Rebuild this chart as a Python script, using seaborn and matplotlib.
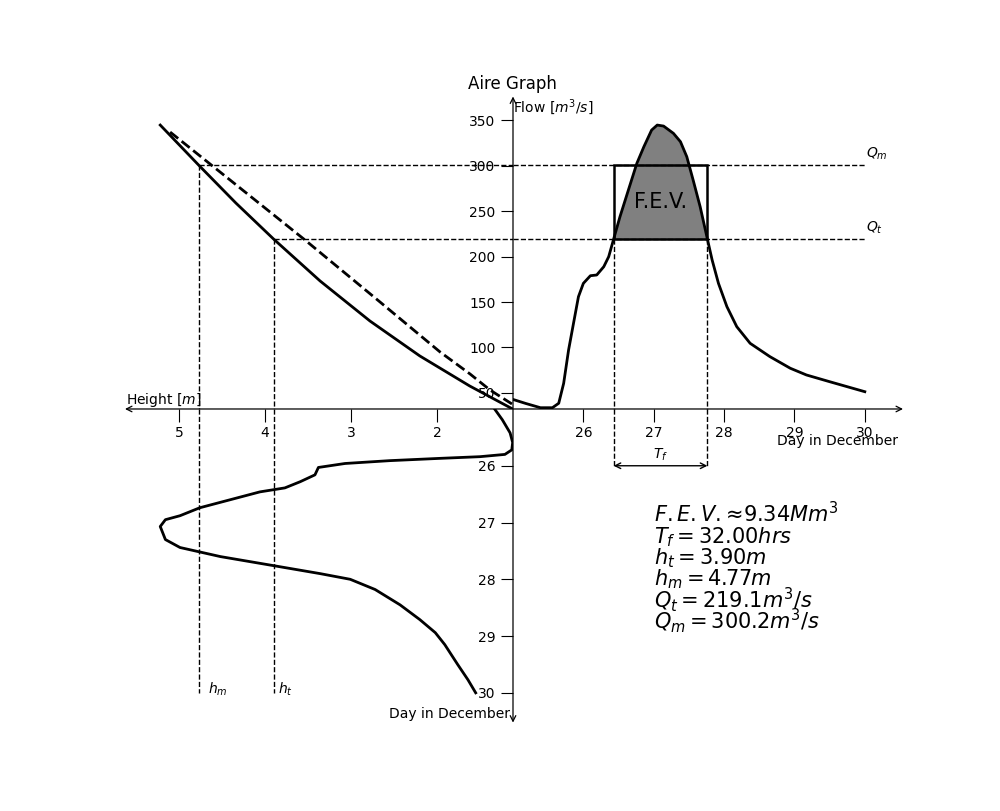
import matplotlib
matplotlib.use("Agg")
import matplotlib.pyplot as plt
import numpy as np
import seaborn as sns
from matplotlib.patches import Rectangle

# flow hydrograph, Day in December vs flow [m3/s]
flow_day = [25.00, 25.18, 25.39, 25.56, 25.65, 25.72, 25.79, 25.86, 25.93, 26.00,
            26.10, 26.19, 26.29, 26.36, 26.43, 26.52, 26.64, 26.76, 26.86, 26.97,
            27.05, 27.14, 27.28, 27.38, 27.47, 27.56, 27.66, 27.763, 27.83, 27.92,
            28.04, 28.18, 28.37, 28.65, 28.94, 29.17, 29.50, 30.00]
flow_q = [42.9, 38.5, 33.8, 33.8, 38.7, 60.6, 97.3, 126.6, 155.8, 170.5,
          178.9, 179.7, 188.8, 199.8, 219.1, 243.7, 273.1, 302.4, 320.7, 339.0,
          344.5, 343.4, 335.4, 326.2, 309.7, 284.1, 254.7, 219.1, 196.2, 170.5,
          144.9, 122.9, 104.6, 90.0, 77.2, 69.8, 62.4, 51.4]

# rating curve: observed and fitted, height [m] vs flow [m3/s]
rating_h = [5.22, 4.77, 4.34, 3.90, 3.36, 2.78, 2.20, 1.62, 1.12]
rating_q = [344.5, 300.2, 258.8, 219.1, 173.1, 129.1, 90.7, 57.7, 32.4]
fit_h = [5.105, 4.291, 3.535, 2.663, 1.965, 1.616, 1.384, 1.128]
fit_q = [336.8, 275.3, 218.1, 150.0, 95.1, 70.9, 53.3, 37.9]

# stage hydrograph, height [m] vs Day in December
stage_day = [25.00, 25.19, 25.42, 25.59, 25.72, 25.80, 25.84, 25.87, 25.91, 25.96,
             26.03, 26.16, 26.28, 26.39, 26.46, 26.60, 26.74, 26.88, 26.95, 27.07,
             27.30, 27.44, 27.60, 27.76, 27.90, 28.00, 28.18, 28.45, 28.71, 28.94,
             29.15, 29.50, 29.77, 30.00]
stage_h = [1.33, 1.24, 1.15, 1.12, 1.13, 1.21, 1.50, 1.97, 2.55, 3.07,
           3.38, 3.42, 3.59, 3.77, 4.06, 4.41, 4.76, 4.99, 5.16, 5.22,
           5.16, 4.99, 4.52, 3.90, 3.36, 3.01, 2.72, 2.43, 2.20, 2.02,
           1.91, 1.76, 1.64, 1.55]

q_t, q_m = 219.1, 300.2
h_t, h_m = 3.90, 4.77
t_start, t_end = 26.43, 27.763
fev, t_f = 9.34, 32.00

day_ticks = [26, 27, 28, 29, 30]
flow_ticks = [50, 100, 150, 200, 250, 300, 350]
height_ticks = [5, 4, 3, 2]

fig = plt.figure(figsize=(10, 8.11), dpi=100)
L, R, B, T = 0.125, 0.9, 0.11, 0.88
ox, oy = 0.513, 0.4957

ax_ur = fig.add_axes([ox, oy, R - ox, T - oy])
ax_ul = fig.add_axes([L, oy, ox - L, T - oy])
ax_ll = fig.add_axes([L, B, ox - L, oy - B])
ax_lr = fig.add_axes([ox, B, R - ox, oy - B])

day_lim = (25, 30.5)
q_lim = (32.4, 375)
h_lim = (5.63, 1.116)
sday_lim = (30.51, 25)

for ax in (ax_ur, ax_ul, ax_ll, ax_lr):
    ax.set_facecolor("none")
    for s in ax.spines.values():
        s.set_visible(False)
    ax.tick_params(length=9, width=0.8, labelsize=10)

# upper right: hydrograph with flood excess volume
sns.lineplot(x=flow_day, y=flow_q, ax=ax_ur, color="black", lw=2)
ax_ur.fill_between(flow_day, flow_q, q_t, where=np.array(flow_q) >= q_t,
                   interpolate=True, color="gray", lw=0)
ax_ur.add_patch(Rectangle((t_start, q_t), t_end - t_start, q_m - q_t,
                          fill=False, ec="black", lw=1.8, zorder=3))
ax_ur.text((t_start + t_end) / 2, (q_t + q_m) / 2, "F.E.V.", fontsize=15,
           ha="center", va="center")
for q, lab in ((q_m, "$Q_m$"), (q_t, "$Q_t$")):
    ax_ur.plot([day_lim[0], 30], [q, q], "k--", lw=1)
    ax_ur.text(30.02, q + 13, lab, ha="left", va="center", fontsize=10)
for t in (t_start, t_end):
    ax_ur.plot([t, t], [q_t, q_lim[0]], "k--", lw=1, clip_on=False)
ax_ur.set_xlim(day_lim)
ax_ur.set_ylim(q_lim)
ax_ur.set_xticks(day_ticks)
ax_ur.set_yticks(flow_ticks)
ax_ur.text(0.0, 0.968, "Flow [$m^3/s$]", transform=ax_ur.transAxes,
           ha="left", va="center", fontsize=10)

# upper left: rating curve
sns.lineplot(x=rating_h, y=rating_q, ax=ax_ul, sort=False, estimator=None,
             color="black", lw=2)
sns.lineplot(x=fit_h, y=fit_q, ax=ax_ul, sort=False, estimator=None,
             color="black", lw=2, linestyle="--")
for h, q in ((h_m, q_m), (h_t, q_t)):
    ax_ul.plot([h, h_lim[1]], [q, q], "k--", lw=1)
    ax_ul.plot([h, h], [q, q_lim[0]], "k--", lw=1)
ax_ul.set_xlim(h_lim)
ax_ul.set_ylim(q_lim)
ax_ul.set_xticks(height_ticks)
ax_ul.set_yticks([])
ax_ul.text(0.002, 0.0, "Height [$m$]", transform=ax_ul.transAxes,
           ha="left", va="bottom", fontsize=10)

# lower left: stage hydrograph
sns.lineplot(x=stage_h, y=stage_day, ax=ax_ll, sort=False, estimator=None,
             color="black", lw=2)
for h, lab, dx in ((h_m, "$h_m$", 0.1), (h_t, "$h_t$", 0.05)):
    ax_ll.plot([h, h], [25, 30], "k--", lw=1)
    ax_ll.text(h - dx, 29.93, lab, ha="left", va="center", fontsize=10)
ax_ll.set_xlim(h_lim)
ax_ll.set_ylim(sday_lim)
ax_ll.set_xticks([])
ax_ll.set_yticks([])
ax_ll.text(0.992, 0.026, "Day in December", transform=ax_ll.transAxes,
           ha="right", va="center", fontsize=10)

# lower right: summary
for t in (t_start, t_end):
    ax_lr.plot([t, t], [25, 26], "k--", lw=1)
ax_lr.annotate("", xy=(t_end, 26), xytext=(t_start, 26),
               arrowprops=dict(arrowstyle="<->", color="black", lw=1,
                               shrinkA=0, shrinkB=0))
ax_lr.text((t_start + t_end) / 2, 25.8, "$T_f$", ha="center", va="center",
           fontsize=10)
summary = [f"$F.E.V.≈{fev:.2f}Mm^3$",
           f"$T_f = {t_f:.2f}hrs$",
           f"$h_t = {h_t:.2f}m$",
           f"$h_m = {h_m:.2f}m$",
           f"$Q_t = {q_t:.1f}m^3/s$",
           f"$Q_m = {q_m:.1f}m^3/s$"]
for i, line in enumerate(summary):
    ax_lr.text(27.0, 26.99 + 0.375 * i, line, ha="left", va="baseline",
               fontsize=15)
ax_lr.set_xlim(day_lim)
ax_lr.set_ylim(sday_lim)
ax_lr.set_xticks([])
ax_lr.set_yticks(day_ticks)
ax_lr.text(0.995, 0.898, "Day in December", transform=ax_lr.transAxes,
           ha="right", va="center", fontsize=10)

# axis lines with arrow heads
arrow = dict(arrowstyle="<->", color="black", lw=0.9, shrinkA=0, shrinkB=0)
ax_ur.annotate("", xy=(R + 0.003, oy), xytext=(L, oy),
               xycoords="figure fraction", arrowprops=arrow)
ax_ur.annotate("", xy=(ox, T + 0.001), xytext=(ox, B - 0.001),
               xycoords="figure fraction", arrowprops=arrow)

fig.text(0.5125, 1 - 84 / 811, "Aire Graph", ha="center", va="center",
         fontsize=12)

fig.savefig("out.png", dpi=100)
